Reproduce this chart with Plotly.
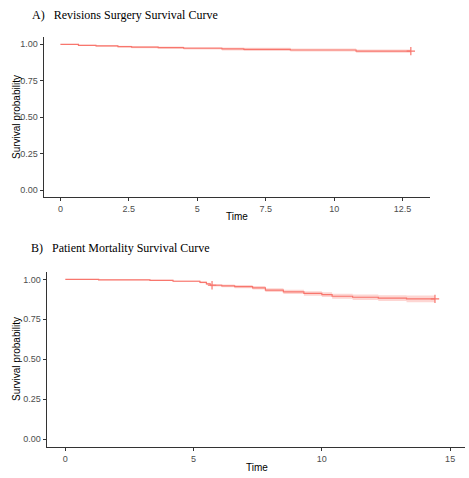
import plotly.graph_objects as go

W, H = 469, 478

# ---- Data: Panel A (Revisions Surgery) ----
time_A = [0, 0.66, 1.3, 2.1, 2.6, 3.57, 4.5, 5.9, 6.7, 8.4, 10.8, 12.8]
surv_A = [1.0, 0.993, 0.989, 0.984, 0.980, 0.977, 0.973, 0.968, 0.965, 0.961, 0.953, 0.953]
low_A = [1.0, 0.989, 0.984, 0.978, 0.973, 0.969, 0.964, 0.958, 0.954, 0.950, 0.942, 0.942]
up_A = [1.0, 0.997, 0.994, 0.990, 0.987, 0.985, 0.982, 0.978, 0.976, 0.972, 0.964, 0.964]
cens_time_A = [12.8]
cens_surv_A = [0.953]

# ---- Data: Panel B (Patient Mortality) ----
time_B = [0, 1.3, 3.3, 4.2, 5.25, 5.5, 5.65, 6.1, 6.6, 7.3, 7.8, 8.5, 9.3, 10.0, 10.4, 11.2, 12.2, 13.3, 14.41]
surv_B = [1.0, 0.997, 0.994, 0.988, 0.981, 0.972, 0.963, 0.959, 0.955, 0.947, 0.933, 0.922, 0.912, 0.904, 0.894, 0.888, 0.883, 0.878, 0.878]
low_B = [1.0, 0.994, 0.990, 0.983, 0.975, 0.965, 0.955, 0.950, 0.945, 0.936, 0.921, 0.909, 0.898, 0.889, 0.878, 0.871, 0.865, 0.857, 0.857]
up_B = [1.0, 1.0, 0.998, 0.993, 0.987, 0.979, 0.971, 0.968, 0.965, 0.958, 0.945, 0.935, 0.926, 0.919, 0.910, 0.905, 0.901, 0.899, 0.899]
cens_time_B = [5.72, 14.41]
cens_surv_B = [0.963, 0.878]

ytick_vals = [0, 0.25, 0.5, 0.75, 1.0]
ytick_text = ["0.00", "0.25", "0.50", "0.75", "1.00"]
xtick_vals_A = [0, 2.5, 5, 7.5, 10, 12.5]
xtick_text_A = ["0", "2.5", "5", "7.5", "10", "12.5"]
xtick_vals_B = [0, 5, 10, 15]
xtick_text_B = ["0", "5", "10", "15"]

RED = "#F8766D"
BAND = "rgba(248,118,109,0.3)"

fig = go.Figure()


def add_panel(t, s, lo, hi, ct, cs, xa, ya):
    fig.add_trace(go.Scatter(x=t, y=lo, mode="lines", line=dict(width=0, shape="hv"),
                             xaxis=xa, yaxis=ya, showlegend=False, hoverinfo="skip"))
    fig.add_trace(go.Scatter(x=t, y=hi, mode="lines", line=dict(width=0, shape="hv"),
                             fill="tonexty", fillcolor=BAND,
                             xaxis=xa, yaxis=ya, showlegend=False, hoverinfo="skip"))
    fig.add_trace(go.Scatter(x=t, y=s, mode="lines", line=dict(color=RED, width=1.2, shape="hv"),
                             xaxis=xa, yaxis=ya, showlegend=False))
    fig.add_trace(go.Scatter(x=ct, y=cs, mode="markers",
                             marker=dict(symbol="cross-thin", size=6, line=dict(color=RED, width=1.2)),
                             xaxis=xa, yaxis=ya, showlegend=False))


add_panel(time_A, surv_A, low_A, up_A, cens_time_A, cens_surv_A, "x", "y")
add_panel(time_B, surv_B, low_B, up_B, cens_time_B, cens_surv_B, "x2", "y2")


def fx(px):
    return px / W


def fy(py):
    return 1 - py / H


tickfont = dict(family="Liberation Sans, Arial, sans-serif", size=9, color="#4D4D4D")
axcommon = dict(showgrid=False, zeroline=False, showline=True, linecolor="#333333", linewidth=1,
                ticks="outside", ticklen=3, tickcolor="#333333", tickwidth=1, tickfont=tickfont)

fig.update_layout(
    width=W, height=H,
    margin=dict(l=0, r=0, t=0, b=0),
    paper_bgcolor="white", plot_bgcolor="white",
    xaxis=dict(domain=[fx(43.7), fx(430)], range=[-0.61, 13.5], anchor="y",
               tickvals=xtick_vals_A, ticktext=xtick_text_A, **axcommon),
    yaxis=dict(domain=[fy(197), fy(36.7)], range=[-0.046, 1.052], anchor="x",
               tickvals=ytick_vals, ticktext=ytick_text, **axcommon),
    xaxis2=dict(domain=[fx(46.7), fx(465)], range=[-0.725, 15.58], anchor="y2",
                tickvals=xtick_vals_B, ticktext=xtick_text_B, **axcommon),
    yaxis2=dict(domain=[fy(446.7), fy(272)], range=[-0.048, 1.046], anchor="x2",
                tickvals=ytick_vals, ticktext=ytick_text, **axcommon),
)

serif = dict(family="Liberation Serif, Times New Roman, serif", size=12, color="black")
sans = dict(family="Liberation Sans, Arial, sans-serif", size=10, color="black")


def px_ann(text, x, y, font, xanchor="center", yanchor="middle", angle=0):
    fig.add_annotation(text=text, x=fx(x), y=fy(y), xref="paper", yref="paper",
                       showarrow=False, font=font, xanchor=xanchor, yanchor=yanchor,
                       textangle=angle)


px_ann("A)&nbsp;&nbsp;&nbsp;Revisions Surgery Survival Curve", 29.5, 14.5, serif, xanchor="left")
px_ann("B)&nbsp;&nbsp;&nbsp;Patient Mortality Survival Curve", 28.5, 248, serif, xanchor="left")
px_ann("Time", 237, 216.5, sans)
px_ann("Time", 257, 467.5, sans)
px_ann("Survival probability", 16, 117, sans, angle=-90)
px_ann("Survival probability", 16, 359, sans, angle=-90)

fig.write_html("out.html", config={"displayModeBar": False},
               post_script="document.body.style.margin='0';document.body.style.overflow='hidden';")
